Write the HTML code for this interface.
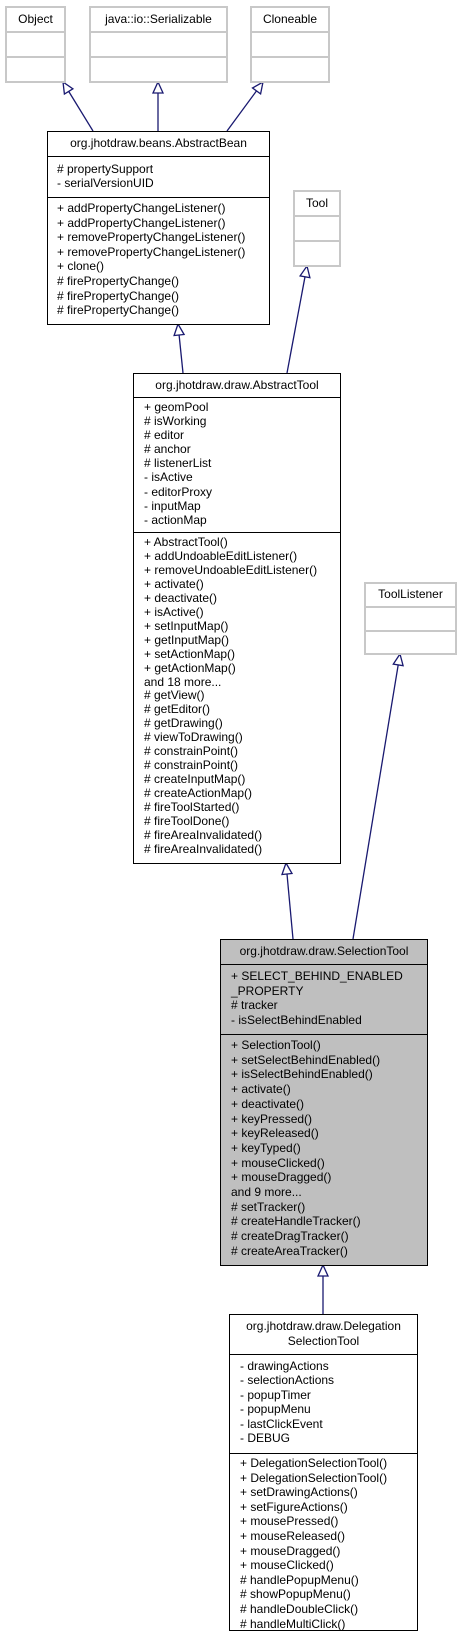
<!DOCTYPE html>
<html><head><meta charset="utf-8"><style>
body{margin:0;width:461px;height:1645px;background:#fff;position:relative;overflow:hidden;font-family:"Liberation Sans",sans-serif;font-size:12px;color:#000}
.b{position:absolute;box-sizing:border-box;border:1px solid #000;background:#fff}
.g{border:2px solid #c8c8c8}
.d{position:absolute;left:0;right:0;height:0;border-top:1px solid #000}
.g .d{border-top:2px solid #c8c8c8}
.t{position:absolute;white-space:pre;line-height:14px}
.c{position:absolute;left:0;right:0;text-align:center;white-space:pre}
</style></head><body>
<svg width="461" height="1645" style="position:absolute;left:0;top:0" stroke="#191970" stroke-width="1.3" fill="#fff">
<line x1="93" y1="131" x2="68.7" y2="91.4"/><polygon points="63,82 72.9,88.8 64.4,94"/>
<line x1="158" y1="131" x2="158" y2="93"/><polygon points="158,82 163,93 153,93"/>
<line x1="227" y1="131" x2="256.5" y2="90.9"/><polygon points="263,82 260.6,93.9 252.5,88"/>
<line x1="183" y1="373" x2="179.1" y2="335"/><polygon points="178,324 184.1,334.5 174.1,335.5"/>
<line x1="287" y1="373" x2="305" y2="276.8"/><polygon points="307,266 309.9,277.7 300.1,275.9"/>
<line x1="293" y1="939" x2="287" y2="874"/><polygon points="286,863 292,873.5 282,874.5"/>
<line x1="353" y1="939" x2="398.2" y2="664.9"/><polygon points="400,654 403.1,665.7 393.3,664.1"/>
<line x1="323" y1="1314" x2="323" y2="1276"/><polygon points="323,1265 328,1276 318,1276"/>
</svg>

<div class="b g" style="left:5px;top:6px;width:61px;height:77px"><div class="c" style="top:4px">Object</div><div class="d" style="top:23px"></div><div class="d" style="top:48px"></div></div>
<div class="b g" style="left:89px;top:6px;width:139px;height:77px"><div class="c" style="top:4px">java::io::Serializable</div><div class="d" style="top:23px"></div><div class="d" style="top:48px"></div></div>
<div class="b g" style="left:250px;top:6px;width:80px;height:77px"><div class="c" style="top:4px">Cloneable</div><div class="d" style="top:23px"></div><div class="d" style="top:48px"></div></div>
<div class="b g" style="left:293px;top:190px;width:48px;height:77px"><div class="c" style="top:4px">Tool</div><div class="d" style="top:23px"></div><div class="d" style="top:48px"></div></div>
<div class="b g" style="left:364px;top:582px;width:93px;height:73px"><div class="c" style="top:3px">ToolListener</div><div class="d" style="top:22px"></div><div class="d" style="top:46px"></div></div>

<div class="b" style="left:47px;top:131px;width:223px;height:194px">
<div class="c" style="top:4px">org.jhotdraw.beans.AbstractBean</div><div class="d" style="top:24px"></div><div class="d" style="top:65px"></div>
<div class="t" style="left:9px;top:31px;line-height:13.5px"># propertySupport
- serialVersionUID</div>
<div class="t" style="left:9px;top:69px;line-height:14.6px">+ addPropertyChangeListener()
+ addPropertyChangeListener()
+ removePropertyChangeListener()
+ removePropertyChangeListener()
+ clone()
# firePropertyChange()
# firePropertyChange()
# firePropertyChange()</div></div>

<div class="b" style="left:133px;top:373px;width:208px;height:491px">
<div class="c" style="top:4px">org.jhotdraw.draw.AbstractTool</div><div class="d" style="top:23px"></div><div class="d" style="top:158px"></div>
<div class="t" style="left:10px;top:26px;line-height:14.1px">+ geomPool
# isWorking
# editor
# anchor
# listenerList
- isActive
- editorProxy
- inputMap
- actionMap</div>
<div class="t" style="left:10px;top:162px;line-height:13.95px">+ AbstractTool()
+ addUndoableEditListener()
+ removeUndoableEditListener()
+ activate()
+ deactivate()
+ isActive()
+ setInputMap()
+ getInputMap()
+ setActionMap()
+ getActionMap()
and 18 more...
# getView()
# getEditor()
# getDrawing()
# viewToDrawing()
# constrainPoint()
# constrainPoint()
# createInputMap()
# createActionMap()
# fireToolStarted()
# fireToolDone()
# fireAreaInvalidated()
# fireAreaInvalidated()</div></div>

<div class="b" style="left:220px;top:939px;width:208px;height:327px;background:#bfbfbf">
<div class="c" style="top:4px">org.jhotdraw.draw.SelectionTool</div><div class="d" style="top:24px"></div><div class="d" style="top:94px"></div>
<div class="t" style="left:10px;top:29px;line-height:14.6px">+ SELECT_BEHIND_ENABLED
_PROPERTY
# tracker
- isSelectBehindEnabled</div>
<div class="t" style="left:10px;top:98px;line-height:14.7px">+ SelectionTool()
+ setSelectBehindEnabled()
+ isSelectBehindEnabled()
+ activate()
+ deactivate()
+ keyPressed()
+ keyReleased()
+ keyTyped()
+ mouseClicked()
+ mouseDragged()
and 9 more...
# setTracker()
# createHandleTracker()
# createDragTracker()
# createAreaTracker()</div></div>

<div class="b" style="left:229px;top:1314px;width:189px;height:317px">
<div class="c" style="top:4px;line-height:15px">org.jhotdraw.draw.Delegation
SelectionTool</div><div class="d" style="top:39px"></div><div class="d" style="top:138px"></div>
<div class="t" style="left:10px;top:44px;line-height:14.4px">- drawingActions
- selectionActions
- popupTimer
- popupMenu
- lastClickEvent
- DEBUG</div>
<div class="t" style="left:10px;top:141px;line-height:14.6px">+ DelegationSelectionTool()
+ DelegationSelectionTool()
+ setDrawingActions()
+ setFigureActions()
+ mousePressed()
+ mouseReleased()
+ mouseDragged()
+ mouseClicked()
# handlePopupMenu()
# showPopupMenu()
# handleDoubleClick()
# handleMultiClick()</div></div>
</body></html>
